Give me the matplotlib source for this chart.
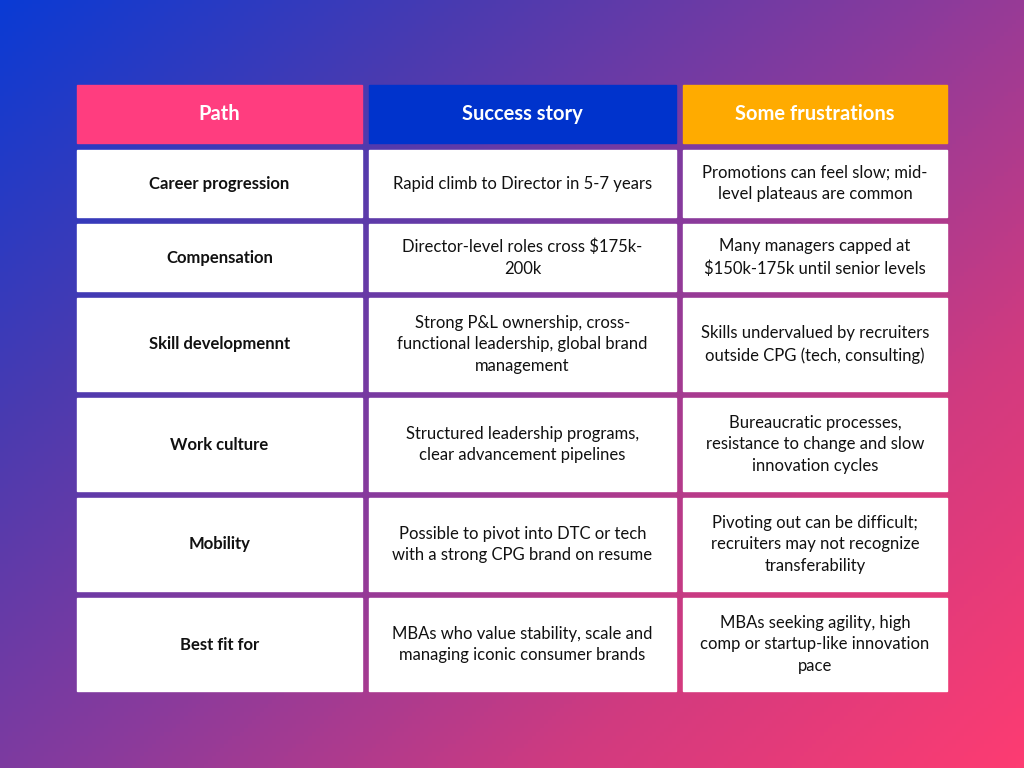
import numpy as np
import matplotlib.pyplot as plt
from matplotlib.colors import LinearSegmentedColormap
from matplotlib.patches import Rectangle

headers = ["Path", "Success story", "Some frustrations"]
paths = ["Career progression", "Compensation", "Skill developmennt",
         "Work culture", "Mobility", "Best fit for"]
success = [
    "Rapid climb to Director in 5-7 years",
    "Director-level roles cross $175k-\n200k",
    "Strong P&L ownership, cross-\nfunctional leadership, global brand\nmanagement",
    "Structured leadership programs,\nclear advancement pipelines",
    "Possible to pivot into DTC or tech\nwith a strong CPG brand on resume",
    "MBAs who value stability, scale and\nmanaging iconic consumer brands",
]
frustrations = [
    "Promotions can feel slow; mid-\nlevel plateaus are common",
    "Many managers capped at\n$150k-175k until senior levels",
    "Skills undervalued by recruiters\noutside CPG (tech, consulting)",
    "Bureaucratic processes,\nresistance to change and slow\ninnovation cycles",
    "Pivoting out can be difficult;\nrecruiters may not recognize\ntransferability",
    "MBAs seeking agility, high\ncomp or startup-like innovation\npace",
]
header_colors = ["#ff3d7f", "#0033cc", "#ffab00"]

col_x = [(77, 362), (369, 676), (683, 947)]
header_y = (85, 143)
row_y = [(150, 217), (224, 291), (298, 391), (398, 491), (498, 591), (598, 691)]

fig = plt.figure(figsize=(10.24, 7.68), dpi=100)
ax = fig.add_axes([0, 0, 1, 1])
ax.set_xlim(0, 1024)
ax.set_ylim(768, 0)
ax.axis("off")

# diagonal gradient background
xx, yy = np.meshgrid(np.linspace(0, 1, 256), np.linspace(0, 1, 192))
g = (xx * 0.55 + yy * 0.45)
cmap = LinearSegmentedColormap.from_list(
    "bg", ["#0a3ad4", "#4a3bb0", "#8a3a9c", "#d03a80", "#fd3c72"])
ax.imshow(g, cmap=cmap, extent=[0, 1024, 768, 0], aspect="auto", zorder=0)

font = "Lato"
for (x0, x1), h, c in zip(col_x, headers, header_colors):
    ax.add_patch(Rectangle((x0, header_y[0]), x1 - x0, header_y[1] - header_y[0],
                           color=c, zorder=1))
    ax.text((x0 + x1) / 2, sum(header_y) / 2, h, ha="center", va="center",
            color="white", fontsize=14.5, fontweight="bold", family=font, zorder=2)

for (y0, y1), p, s, f in zip(row_y, paths, success, frustrations):
    for i, ((x0, x1), t) in enumerate(zip(col_x, [p, s, f])):
        ax.add_patch(Rectangle((x0, y0), x1 - x0, y1 - y0, color="white", zorder=1))
        ax.text((x0 + x1) / 2, (y0 + y1) / 2, t, ha="center", va="center",
                color="#111111", fontsize=12, linespacing=1.45, family=font,
                fontweight="bold" if i == 0 else "normal", zorder=2)

fig.savefig("out.png", dpi=100)
